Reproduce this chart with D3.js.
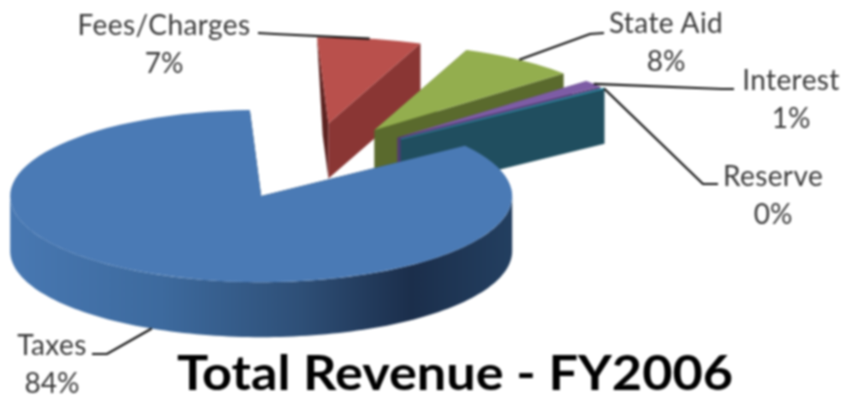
<!DOCTYPE html>
<html>
<head>
<meta charset="utf-8">
<script src="https://cdn.jsdelivr.net/npm/d3@7"></script>
<style>
html,body{margin:0;padding:0;background:#fff}
svg{display:block;filter:blur(0.8px)}
text{font-family:Lato,"Open Sans",sans-serif}
</style>
</head>
<body>
<svg id="c" width="846" height="400"></svg>
<script>
const categories = ["Fees/Charges", "State Aid", "Interest", "Reserve", "Taxes"];
const values = [6.7, 7.6, 1.4, 0.1, 84.2];
const topColors = ["#b9504c", "#93ae4e", "#7d5ca5", "#2f8fa8", "#4a7ab5"];
const wallColors = ["#8a3634", "#5a6a2d", "#523c70", "#204e5f", "#24415f"];
const cutColors = ["#5c2321", "#5a6a2d", "#523c70", "#204e5f", "#24415f"];
const taxesWallStops = [[0, "#4878b2"], [0.3, "#3d6a9e"], [0.58, "#2e4f77"], [0.8, "#1b2e4b"], [1, "#233f60"]];
const labelLayout = [
  {x: 164, y: 35, elbow: [[275, 34], [258, 33]], rim: 0},
  {x: 666, y: 33, elbow: [[590, 34], [604, 33]], rim: 0},
  {x: 791, y: 90, elbow: [[722, 89], [734, 89]], rim: 0},
  {x: 773, y: 186, elbow: [[703, 184], [718, 184]], rim: 0},
  {x: 52, y: 355, elbow: [[107, 354], [92, 354]], rim: 1}
];
const titleText = "Total Revenue - FY2006";

const ratio = 0.343, radius = 251, depth = 55, explode = 112;
const cx = 310, cy = 161.5;
const startDeg = -2.6;
const farCutBottom = 0.5; // perspective narrows the far cut face
const svg = d3.select("#c");

// projection from pie plane (unit: px in the pie plane) to the screen
const sx = d3.scaleLinear().domain([0, 1]).range([cx, cx + 1]);
const sy = d3.scaleLinear().domain([0, 1]).range([cy, cy + ratio]);
const proj = (a, r, off, drop) => [
  sx(Math.sin(a) * r + Math.sin(off) * explode),
  sy(-Math.cos(a) * r - Math.cos(off) * explode) + drop
];

const start = startDeg * Math.PI / 180;
const pie = d3.pie().sort(null).startAngle(start).endAngle(start + 2 * Math.PI);
const arcs = pie(values);
const line = d3.line();

const grad = svg.append("defs").append("linearGradient")
  .attr("id", "taxWall").attr("gradientUnits", "userSpaceOnUse")
  .attr("x1", 10).attr("x2", 512).attr("y1", 0).attr("y2", 0);
grad.selectAll("stop").data(taxesWallStops).join("stop")
  .attr("offset", d => d[0]).attr("stop-color", d => d[1]);

const arcGen = d3.arc().innerRadius(0).outerRadius(radius);

const g = svg.selectAll("g.slice").data(arcs).join("g").attr("class", "slice");
g.each(function (d, i) {
  const sel = d3.select(this);
  const mid = (d.startAngle + d.endAngle) / 2;
  const cut = (a, k) => line([
    proj(a, radius, mid, 0), proj(a, 0, mid, 0),
    proj(a, 0, mid, depth), proj(a, radius * k, mid, depth)
  ]) + "Z";
  // cut faces
  sel.append("path").attr("d", cut(d.startAngle, farCutBottom)).attr("fill", cutColors[i]);
  sel.append("path").attr("d", cut(d.endAngle, 1)).attr("fill", wallColors[i]);
  // outer rim wall (front half only)
  const a0 = Math.max(d.startAngle, Math.PI / 2), a1 = Math.min(d.endAngle, 3 * Math.PI / 2);
  if (a1 > a0) {
    const ts = d3.range(0, 121).map(k => a0 + (a1 - a0) * k / 120);
    const pts = ts.map(a => proj(a, radius, mid, 0))
      .concat(ts.slice().reverse().map(a => proj(a, radius, mid, depth)));
    sel.append("path").attr("d", line(pts) + "Z")
      .attr("fill", i === 4 ? "url(#taxWall)" : wallColors[i]);
  }
  // top face
  const o = proj(0, 0, mid, 0);
  sel.append("path").attr("d", arcGen(d))
    .attr("transform", `translate(${o[0]},${o[1]}) scale(1,${ratio})`)
    .attr("fill", topColors[i])
    .attr("stroke", categories[i] === "Reserve" ? topColors[i] : "none")
    .attr("stroke-width", 2);
});

// leader lines
svg.selectAll("path.leader").data(arcs).join("path").attr("class", "leader")
  .attr("fill", "none").attr("stroke", "#111").attr("stroke-width", 2.2)
  .attr("d", (d, i) => {
    const mid = (d.startAngle + d.endAngle) / 2;
    const L = labelLayout[i];
    return line([proj(mid, radius, mid, L.rim * depth), ...L.elbow]);
  });

// labels
const total = d3.sum(values), pct = d3.format(".0%");
const lab = svg.selectAll("g.label").data(arcs).join("g").attr("class", "label");
lab.append("text").attr("x", (d, i) => labelLayout[i].x).attr("y", (d, i) => labelLayout[i].y)
  .attr("text-anchor", "middle").attr("font-size", 28).attr("letter-spacing", 0.4).attr("fill", "#3a3a3a")
  .text((d, i) => categories[i]);
lab.append("text").attr("x", (d, i) => labelLayout[i].x).attr("y", (d, i) => labelLayout[i].y + 38)
  .attr("text-anchor", "middle").attr("font-size", 28).attr("fill", "#3a3a3a")
  .text(d => pct(d.data / total));

svg.append("text").attr("x", 455).attr("y", 390).attr("text-anchor", "middle")
  .attr("font-size", 47).attr("font-weight", 700).attr("fill", "#000")
  .attr("textLength", 556).attr("lengthAdjust", "spacingAndGlyphs").text(titleText);
</script>
</body>
</html>
